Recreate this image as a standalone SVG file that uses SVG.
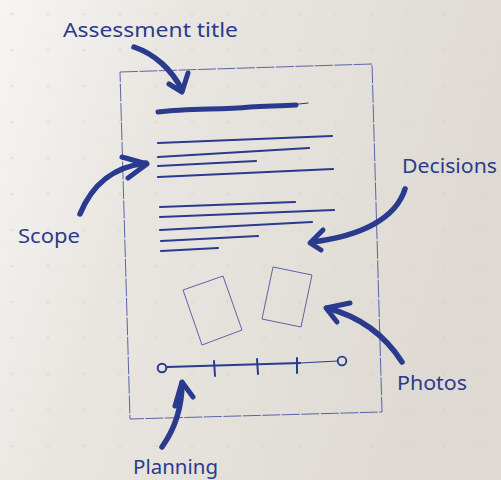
<svg xmlns="http://www.w3.org/2000/svg" width="501" height="480" viewBox="0 0 501 480">
<defs>
<linearGradient id="bg" x1="0" y1="0" x2="1" y2="0.3">
<stop offset="0" stop-color="#f6f5f3"/>
<stop offset="0.35" stop-color="#e9e6e1"/>
<stop offset="1" stop-color="#dedad3"/>
</linearGradient>
<pattern id="dots" width="36" height="36" patternUnits="userSpaceOnUse" x="8" y="10">
<circle cx="4" cy="4" r="1.6" fill="#d2cdc6" opacity="0.4"/>
</pattern>
<style>
.lbl{font-family:"Noto Sans","Liberation Sans",sans-serif;font-size:20px;fill:#2b3a8c;}
.ink{stroke:#2a3a8e;fill:none;stroke-linecap:round;stroke-linejoin:round;}
.arrow{stroke-width:5.5;}
.head{stroke-width:5;}
.text{stroke-width:2.2;}
.thin{stroke:#4a56a0;fill:none;stroke-width:0.9;}
</style>
</defs>
<rect width="501" height="480" fill="url(#bg)"/>
<rect width="501" height="480" fill="url(#dots)"/>

<g id="page">
<polygon class="thin" points="120,72 372,64 382,412 130,419" stroke-dasharray="18 1.5"/>
</g>

<g id="title-scribble">
<path d="M158,112 C190,108 220,110 250,107 C268,106 282,106 296,105" class="ink" stroke-width="5"/>
<path d="M290,105 L308,103" class="ink" stroke-width="1.2"/>
</g>

<g id="scope-lines">
<path class="ink text" d="M158,143 L332,136"/>
<path class="ink text" d="M158,157 L309,148"/>
<path class="ink text" d="M158,166 L256,161"/>
<path class="ink text" d="M158,177 L333,169"/>
</g>

<g id="decision-lines">
<path class="ink text" d="M160,207 L295,202"/>
<path class="ink text" d="M160,217 L334,210"/>
<path class="ink text" d="M160,230 L312,222"/>
<path class="ink text" d="M161,241 L258,236"/>
<path class="ink text" d="M161,251 L218,248"/>
</g>

<g id="photos">
<polygon class="thin" points="183,290 223,276 242,330 202,345"/>
<polygon class="thin" points="273,267 312,275 301,327 262,319"/>
</g>

<g id="timeline">
<circle cx="162" cy="368" r="4.3" class="ink" stroke-width="2"/>
<path class="ink" stroke-width="2" d="M167,367 L300,363"/>
<path class="ink" stroke-width="1.2" d="M300,363 L338,361"/>
<circle cx="342" cy="361" r="4.3" class="ink" stroke-width="1.8"/>
<path class="ink" stroke-width="2" d="M214,361 L215,376 M257,359 L258,374 M297,358 L297,373"/>
</g>

<g id="connectors">
<path class="ink arrow" d="M134,47 C155,54 172,70 182,90"/>
<path class="ink head" d="M169,84 L182,92 L188,73"/>
<path class="ink arrow" d="M80,214 C92,185 112,167 146,163"/>
<path class="ink head" d="M122,157 L147,164 L128,178"/>
<path class="ink arrow" d="M405,189 C396,218 362,236 312,242"/>
<path class="ink head" d="M323,230 L310,243 L321,250"/>
<path class="ink arrow" d="M402,362 C388,340 365,318 327,308"/>
<path class="ink head" d="M350,303 L326,308 L337,322"/>
<path class="ink arrow" d="M162,447 C174,430 182,410 182,383"/>
<path class="ink head" d="M175,406 L182,382 L193,397"/>
</g>

<g id="label-title"><text class="lbl" x="63" y="37" textLength="175" lengthAdjust="spacingAndGlyphs">Assessment title</text></g>
<g id="label-scope"><text class="lbl" x="18" y="243" textLength="62" lengthAdjust="spacingAndGlyphs">Scope</text></g>
<g id="label-decisions"><text class="lbl" x="402" y="173" textLength="95" lengthAdjust="spacingAndGlyphs">Decisions</text></g>
<g id="label-photos"><text class="lbl" x="397" y="390" textLength="70" lengthAdjust="spacingAndGlyphs">Photos</text></g>
<g id="label-planning"><text class="lbl" x="133" y="474" textLength="85" lengthAdjust="spacingAndGlyphs">Planning</text></g>
</svg>
